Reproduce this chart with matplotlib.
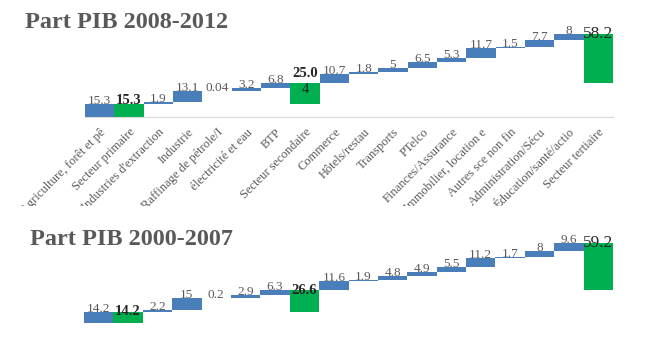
import matplotlib
matplotlib.use("Agg")
import matplotlib.pyplot as plt
from matplotlib.transforms import Bbox, TransformedBbox

plt.rcParams['font.family'] = ['Liberation Serif', 'DejaVu Serif']

# categories (Excel truncated the long ones)
labels = ["Agriculture, forêt et pê", "Secteur primaire", "Industries d'extraction",
          "Industrie", "Raffinage de pétrole/I", "électricité et eau", "BTP",
          "Secteur secondaire", "Commerce", "Hôtels/restau", "Transports", "PTelco",
          "Finances/Assurance", "Immobilier, location e", "Autres sce non fin",
          "Administration/Sécu", "Éducation/santé/actio", "Secteur tertiaire"]
is_total = [0, 1, 0, 0, 0, 0, 0, 1, 0, 0, 0, 0, 0, 0, 0, 0, 0, 1]

vals_0812 = [15.3, 15.3, 1.9, 13.1, 0.04, 3.2, 6.8, 25.0, 10.7, 1.8, 5, 6.5, 5.3, 11.7,
             1.5, 7.7, 8, 58.2]
vals_0007 = [14.2, 14.2, 2.2, 15, 0.2, 2.9, 6.3, 26.6, 11.6, 1.9, 4.8, 4.9, 5.5, 11.2,
             1.7, 8, 9.6, 59.2]

blue = '#4a7ebb'
green = '#00b050'
grey = '#595959'
dark = '#262626'


def waterfall(ax, vals, first_chart):
    run = 0
    x = list(range(len(vals)))
    bottoms, colors = [], []
    for v, t in zip(vals, is_total):
        if t:
            bottoms.append(run - v)
            colors.append(green)
        else:
            bottoms.append(run)
            colors.append(blue)
            run += v
    ax.bar(x, vals, bottom=bottoms, width=1.0, color=colors, linewidth=0)
    for i, (v, b, t) in enumerate(zip(vals, bottoms, is_total)):
        top = b + v
        if not t:
            txt = '{:g}'.format(v)
            ax.annotate(txt, (i, top), xytext=(0, 0), textcoords='offset points',
                        ha='center', va='baseline', fontsize=9.5, color=grey)
        else:
            txt = '{:.1f}'.format(v)
            big = i == len(vals) - 1
            if first_chart and not big:
                va, dy = 'baseline', (4 if i == 7 else 0)
            else:
                va, dy = 'center', 0
            ax.annotate(txt, (i, top), xytext=(0, dy), textcoords='offset points',
                        ha='center', va=va, fontsize=12.5 if big else 10.5,
                        fontweight='normal' if big else 'bold', color=dark)
    ax.set_xlim(-0.5, len(vals) - 0.5)
    ax.set_ylim(0, 100)
    ax.set_yticks([])
    for s in ['top', 'right', 'left']:
        ax.spines[s].set_visible(False)
    return bottoms


fig = plt.figure(figsize=(6.5, 3.48), dpi=100)

ax1 = fig.add_axes([85 / 650, 1 - 116.5 / 348, 528 / 650, 84 / 348])
b1 = waterfall(ax1, vals_0812, True)
ax1.spines['bottom'].set_color('#d9d9d9')
ax1.set_xticks(range(len(labels)))
ax1.set_xticklabels(labels, rotation=45, ha='right', rotation_mode='anchor',
                    fontsize=9, color=grey)
ax1.tick_params(axis='x', length=0, pad=7)
# odd "4" left inside the secondary sector bar
ax1.text(7, b1[7] + vals_0812[7] - 8, '4', ha='center', va='center',
         fontsize=10.5, color=dark)

# the label area is cut off at the bottom in the original
clip = TransformedBbox(Bbox([[0, 1 - 206.5 / 348], [1, 1]]), fig.transFigure)
for t in ax1.get_xticklabels():
    t.set_clip_box(clip)
    t.set_clip_on(True)

ax2 = fig.add_axes([84 / 650, 1 - 323 / 348, 529 / 650, 80 / 348])
waterfall(ax2, vals_0007, False)
ax2.spines['bottom'].set_visible(False)
ax2.set_xticks([])

fig.text(25 / 650, 1 - 28 / 348, 'Part PIB 2008-2012', fontsize=17.5,
         fontweight='bold', color=grey, va='baseline')
fig.text(30 / 650, 1 - 245 / 348, 'Part PIB 2000-2007', fontsize=17.5,
         fontweight='bold', color=grey, va='baseline')

fig.savefig('out.png', dpi=100)
